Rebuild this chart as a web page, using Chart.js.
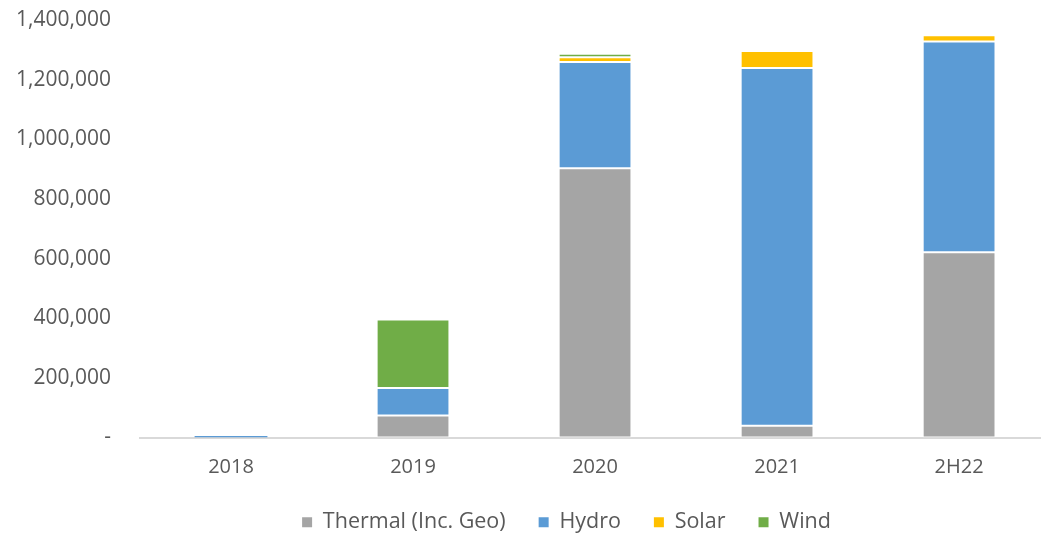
<html lang="en">
  <head>
    <meta charset="UTF-8" />
    <title>Capacity by source</title>
    <script src="https://cdn.jsdelivr.net/npm/chart.js"></script>
    <style>
      html, body { margin: 0; padding: 0; background: #fff; overflow: hidden; }
      #wrap { width: 1041px; height: 533px; }
    </style>
  </head>
  <body>
    <div id="wrap">
      <canvas id="capacity-chart"></canvas>
    </div>
  <script>
    // data
    const periods = ["2018", "2019", "2020", "2021", "2H22"];
    const thermal = [0, 74000, 903000, 39000, 621000];
    const hydro = [5000, 92000, 356000, 1200000, 707000];
    const solar = [0, 0, 16000, 57000, 21000];
    const wind = [0, 230000, 12000, 0, 0];
    const yTicks = [0, 200000, 400000, 600000, 800000, 1000000, 1200000, 1400000];

    const toPoints = (arr) => arr.map((v, i) => ({ x: i, y: v }));

    const series = [
      { label: "Thermal (Inc. Geo)", data: thermal, color: "#A5A5A5" },
      { label: "Hydro", data: hydro, color: "#5B9BD5" },
      { label: "Solar", data: solar, color: "#FFC000" },
      { label: "Wind", data: wind, color: "#70AD47" },
    ];

    const textColor = "#595959";
    const family = "'Open Sans', sans-serif";

    // the legend in the original sits a bit right of the canvas centre
    const legendNudge = {
      id: "legendNudge",
      afterLayout(chart) {
        const lg = chart.legend;
        if (!lg) return;
        lg.left += 41;
        lg.right += 41;
        lg.top -= 1;
        lg.bottom -= 1;
      },
    };

    new Chart(document.getElementById("capacity-chart"), {
      type: "bar",
      data: {
        datasets: series.map((s) => ({
          label: s.label,
          data: toPoints(s.data),
          backgroundColor: s.color,
          borderColor: "#ffffff",
          // very thin slivers would vanish under the white edge
          borderWidth: (ctx) => (ctx.raw && ctx.raw.y < 8000 ? 0 : 1),
          borderSkipped: false,
          categoryPercentage: 0.4,
          barPercentage: 1,
        })),
      },
      plugins: [legendNudge],
      options: {
        responsive: true,
        maintainAspectRatio: false,
        animation: false,
        layout: { padding: { left: 10, right: 0, top: 20, bottom: -11 } },
        plugins: {
          tooltip: { enabled: false },
          legend: {
            position: "bottom",
            labels: {
              color: textColor,
              font: { family: family, size: 21.5 },
              boxWidth: 10,
              boxHeight: 10,
              padding: 33,
            },
          },
        },
        scales: {
          x: {
            type: "linear",
            stacked: true,
            offset: false,
            min: -0.5,
            max: 4.45,
            grid: { display: false, drawTicks: true, tickLength: 18 },
            border: { display: true, color: "#D9D9D9", width: 2 },
            afterBuildTicks: (scale) => {
              scale.ticks = periods.map((p, i) => ({ value: i }));
            },
            ticks: {
              color: textColor,
              font: { family: family, size: 20 },
              padding: 0,
              maxRotation: 0,
              autoSkip: false,
              callback: (v) => periods[v] ?? "",
            },
          },
          y: {
            stacked: true,
            min: 0,
            max: 1400000,
            afterFit: (scale) => { scale.width = 130; },
            afterBuildTicks: (scale) => {
              scale.ticks = yTicks.map((v) => ({ value: v }));
            },
            grid: { display: false, drawTicks: true, tickLength: 29 },
            border: { display: false },
            ticks: {
              color: textColor,
              font: { family: family, size: 21 },
              padding: 0,
              callback: (v) => (v === 0 ? "-" : v.toLocaleString("en-US")),
            },
          },
        },
      },
    });
  </script>
  </body>
</html>
